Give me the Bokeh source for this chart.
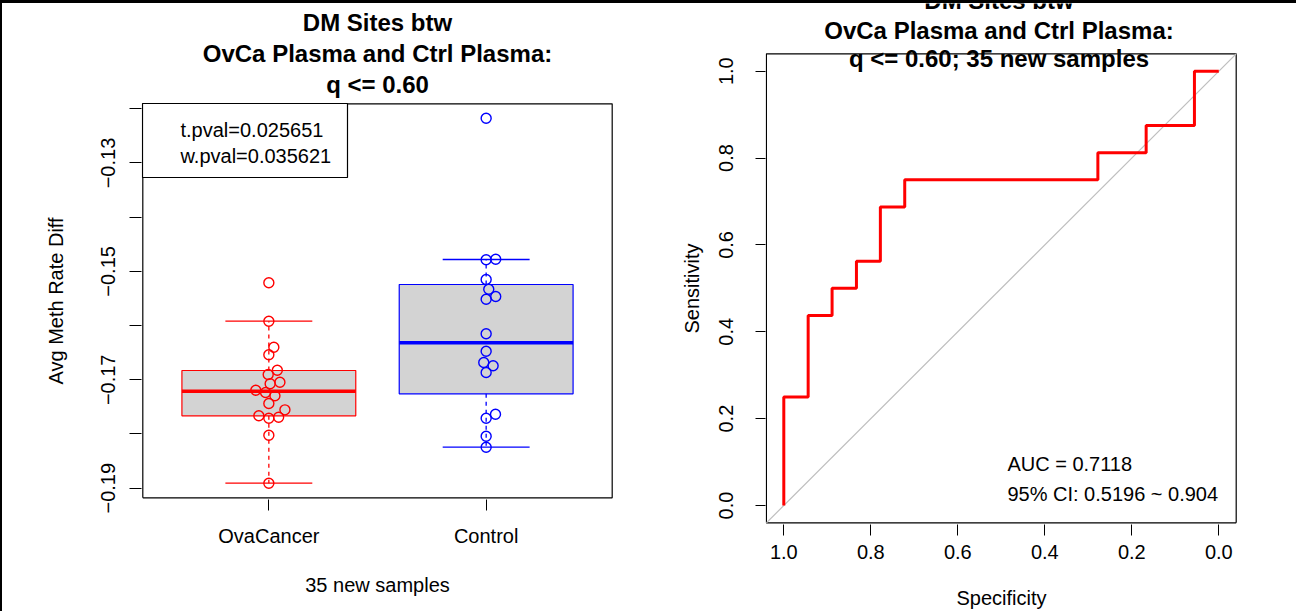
from bokeh.plotting import figure
from bokeh.models import Range1d, FixedTicker, Label, BoxAnnotation, Title
from bokeh.layouts import row, column
from bokeh.embed import file_html
from bokeh.resources import INLINE

FONT = "Liberation Sans"

# ---------------- left panel data (boxplot + strip chart) ----------------
groups = ["OvaCancer", "Control"]
group_pos = [1, 2]
group_colors = ["#FF0000", "#0000FF"]
box_q1 = [-0.17664, -0.17258]
box_median = [-0.17210, -0.16317]
box_q3 = [-0.16828, -0.15242]
whisker_low = [-0.18908, -0.18243]
whisker_high = [-0.15919, -0.14780]

ova_values = [-0.15210, -0.15919, -0.16399, -0.16539, -0.16823, -0.16902,
              -0.17044, -0.17074, -0.17192, -0.17234, -0.17295, -0.17437,
              -0.17554, -0.17664, -0.17709, -0.17690, -0.18022, -0.18908]
ova_jitter = [0.0, 0.0, 0.023, 0.0, 0.039, -0.003, 0.051, 0.006, -0.060,
              -0.015, 0.028, 0.0, 0.074, -0.046, 0.0, 0.045, 0.0, 0.0]
ctrl_values = [-0.12173, -0.14786, -0.14775, -0.15149, -0.15328, -0.15463,
               -0.15513, -0.16151, -0.16472, -0.16681, -0.16742, -0.16865,
               -0.17635, -0.17709, -0.18041, -0.18244]
ctrl_jitter = [0.0, 0.0, 0.044, 0.0, 0.012, 0.044, 0.0, 0.0, 0.0, -0.011,
               0.032, 0.0, 0.043, 0.0, 0.0, 0.0]

y_ticks = [-0.19, -0.18, -0.17, -0.16, -0.15, -0.14, -0.13, -0.12]
y_tick_labels = ["\u22120.19", "", "\u22120.17", "", "\u22120.15", "", "\u22120.13", ""]
stat_lines = ["t.pval=0.025651", "w.pval=0.035621"]

# plot-region limits of the left panel (R's usr box)
left_box_x = (0.42, 2.58)
left_box_y = (-0.19177, -0.11908)

# ---------------- right panel data (ROC curve) ----------------
roc_specificity = [1.0, 1.0, 0.944, 0.944, 0.889, 0.889, 0.833, 0.833, 0.778,
                   0.778, 0.722, 0.722, 0.278, 0.278, 0.167, 0.167, 0.056,
                   0.056, 0.0]
roc_sensitivity = [0.0, 0.25, 0.25, 0.4375, 0.4375, 0.5, 0.5, 0.5625, 0.5625,
                   0.6875, 0.6875, 0.75, 0.75, 0.8125, 0.8125, 0.875, 0.875,
                   1.0, 1.0]
auc_text = "AUC = 0.7118"
ci_text = "95% CI: 0.5196 ~ 0.904"
roc_ticks = [0.0, 0.2, 0.4, 0.6, 0.8, 1.0]
roc_tick_labels = ["0.0", "0.2", "0.4", "0.6", "0.8", "1.0"]
right_box = (-0.04, 1.04)

title_lines_left = ["DM Sites btw", "OvCa Plasma and Ctrl Plasma:", "q <= 0.60"]
title_lines_right = ["DM Sites btw", "OvCa Plasma and Ctrl Plasma:",
                     "q <= 0.60; 35 new samples"]


def style_axis(ax, tick_out, standoff, label_standoff):
    ax.axis_line_color = None
    ax.major_tick_out = tick_out
    ax.major_tick_in = 0
    ax.major_tick_line_color = "black"
    ax.major_tick_line_width = 1
    ax.minor_tick_line_color = None
    ax.major_label_text_font = FONT
    ax.major_label_text_font_size = "20px"
    ax.major_label_text_color = "black"
    ax.major_label_standoff = standoff
    ax.axis_label_text_font = FONT
    ax.axis_label_text_font_size = "20px"
    ax.axis_label_text_font_style = "normal"
    ax.axis_label_text_color = "black"
    ax.axis_label_standoff = label_standoff


def add_title(p, lines, cx, ys):
    for txt, y in zip(lines, ys):
        p.add_layout(Label(x=cx, y=y, x_units="screen", y_units="screen",
                           text=txt, text_font=FONT, text_font_size="24px",
                           text_font_style="bold", text_align="center",
                           text_baseline="middle", text_color="black"))


def side_label(p, txt, offset, standoff):
    # y-axis title, centred on the plot box rather than on the whole frame
    p.add_layout(Title(text=txt, align="left", offset=offset, standoff=standoff,
                       text_font=FONT, text_font_size="20px",
                       text_font_style="normal", text_color="black"), "left")


# ======================= LEFT FIGURE =======================
p1 = figure(frame_width=472, frame_height=496,
            min_border_left=139, min_border_right=43,
            min_border_top=0, min_border_bottom=111,
            x_range=Range1d(0.414, 2.586), y_range=Range1d(-0.192085, -0.100572),
            output_backend="svg", toolbar_location=None, tools="",
            outline_line_color=None,
            background_fill_color="white", border_fill_color="white")
p1.xgrid.visible = False
p1.ygrid.visible = False

p1.yaxis.ticker = FixedTicker(ticks=y_ticks)
p1.yaxis.major_label_overrides = dict(zip(y_ticks, y_tick_labels))
p1.yaxis.major_label_orientation = "vertical"
style_axis(p1.yaxis[0], 12, 14, 30)
side_label(p1, "Avg Meth Rate Diff", 115, 64)

p1.xaxis.ticker = FixedTicker(ticks=group_pos)
p1.xaxis.major_label_overrides = dict(zip(group_pos, groups))
p1.xaxis.axis_label = "35 new samples"
style_axis(p1.xaxis[0], 11, 14, 24)

# plot box
bx0, bx1 = left_box_x
by0, by1 = left_box_y
p1.line(x=[bx0, bx1, bx1, bx0, bx0], y=[by0, by0, by1, by1, by0],
        line_color="black", line_width=1.2)

half_box = 0.4
half_cap = 0.2
for i in range(2):
    x = group_pos[i]
    c = group_colors[i]
    p1.quad(left=[x - half_box], right=[x + half_box], bottom=[box_q1[i]],
            top=[box_q3[i]], fill_color="#D3D3D3", line_color=c, line_width=1.2)
    p1.segment(x0=[x, x], y0=[box_q3[i], box_q1[i]], x1=[x, x],
               y1=[whisker_high[i], whisker_low[i]], line_color=c,
               line_width=1.3, line_dash="4 4")
    p1.segment(x0=[x - half_cap, x - half_cap], x1=[x + half_cap, x + half_cap],
               y0=[whisker_high[i], whisker_low[i]],
               y1=[whisker_high[i], whisker_low[i]], line_color=c, line_width=1.3)
    p1.segment(x0=[x - half_box], x1=[x + half_box], y0=[box_median[i]],
               y1=[box_median[i]], line_color=c, line_width=3.5)

p1.scatter(x=[group_pos[0] + j for j in ova_jitter], y=ova_values, size=10,
           fill_color=None, line_color=group_colors[0], line_width=1.4)
p1.scatter(x=[group_pos[1] + j for j in ctrl_jitter], y=ctrl_values, size=10,
           fill_color=None, line_color=group_colors[1], line_width=1.4)

# statistics box (legend-like), anchored at the top-left corner of the plot box
p1.add_layout(BoxAnnotation(left=1, right=206, top=396, bottom=322,
                            left_units="screen", right_units="screen",
                            top_units="screen", bottom_units="screen",
                            fill_color="white", fill_alpha=1.0,
                            line_color="black", line_width=1.2, line_alpha=1.0))
for txt, y in zip(stat_lines, [370, 344]):
    p1.add_layout(Label(x=39, y=y, x_units="screen", y_units="screen", text=txt,
                        text_font=FONT, text_font_size="20px",
                        text_align="left", text_baseline="middle",
                        text_color="black"))

add_title(p1, title_lines_left, 236, [477, 446, 415])

# ======================= RIGHT FIGURE =======================
p2 = figure(frame_width=472, frame_height=521,
            min_border_left=109, min_border_right=59,
            min_border_top=0, min_border_bottom=86,
            x_range=Range1d(1.04207, -0.04299), y_range=Range1d(-0.04375, 1.15588),
            output_backend="svg", toolbar_location=None, tools="",
            outline_line_color=None,
            background_fill_color="white", border_fill_color="white")
p2.xgrid.visible = False
p2.ygrid.visible = False

p2.yaxis.ticker = FixedTicker(ticks=roc_ticks)
p2.yaxis.major_label_overrides = dict(zip(roc_ticks, roc_tick_labels))
p2.yaxis.major_label_orientation = "vertical"
style_axis(p2.yaxis[0], 10, 22, 12)
side_label(p2, "Sensitivity", 191, 28)

p2.xaxis.ticker = FixedTicker(ticks=roc_ticks)
p2.xaxis.major_label_overrides = dict(zip(roc_ticks, roc_tick_labels))
p2.xaxis.axis_label = "Specificity"
style_axis(p2.xaxis[0], 11, 9, 25)

r0, r1 = right_box
p2.line(x=[r0, r1, r1, r0, r0], y=[r0, r0, r1, r1, r0],
        line_color="black", line_width=1.2)
# chance diagonal (abline a=1, b=-1) across the plot box
p2.segment(x0=[r1], y0=[r0], x1=[r0], y1=[r1], line_color="#BEBEBE",
           line_width=1.2)
p2.line(x=roc_specificity, y=roc_sensitivity, line_color="#FF0000", line_width=3)

p2.add_layout(Label(x=0.486, y=0.0945, text=auc_text, text_font=FONT,
                    text_font_size="20px", text_align="left",
                    text_baseline="middle", text_color="black"))
p2.add_layout(Label(x=0.486, y=0.0276, text=ci_text, text_font=FONT,
                    text_font_size="20px", text_align="left",
                    text_baseline="middle", text_color="black"))

add_title(p2, title_lines_right, 233.5, [524, 494, 466])

layout = row(column(p1), column(p2),
             styles={"border-top": "3px solid black",
                     "border-left": "2px solid black"})
open("out.html", "w").write(file_html(layout, INLINE))
